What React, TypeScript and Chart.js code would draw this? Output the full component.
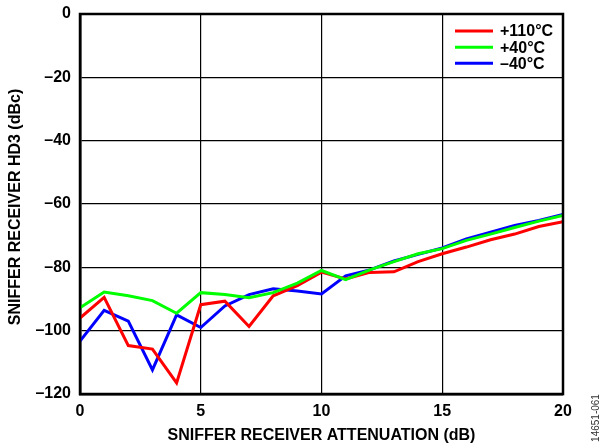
import React, { useEffect, useRef } from "react";
import { Chart, registerables } from "chart.js";

Chart.register(...registerables);

const attenuation = [0, 1, 2, 3, 4, 5, 6, 7, 8, 9, 10, 11, 12, 13, 14, 15, 16, 17, 18, 19, 20];
const hd3Plus110 = [-96, -89.5, -104.7, -105.8, -116.5, -91.8, -90.7, -98.7, -89, -85.8, -81.5, -83.7, -81.6, -81.4, -78.2, -75.7, -73.6, -71.3, -69.5, -67.1, -65.6];
const hd3Plus40 = [-92.8, -87.8, -89, -90.5, -94.5, -88, -88.6, -89.6, -88, -85, -81, -83.9, -80.8, -78.2, -75.7, -74.1, -71.5, -69.5, -67.4, -65.4, -63.6];
const hd3Minus40 = [-103.3, -93.6, -97, -112.4, -95, -99, -92.2, -88.6, -86.8, -87.5, -88.4, -82.7, -80.8, -78, -75.9, -73.9, -71, -68.9, -66.8, -65.2, -63.3];

const seriesLabels = ["+110°C", "+40°C", "–40°C"];
const seriesColors = ["#ff0000", "#00ff00", "#0000ff"];
const xTitle = "SNIFFER RECEIVER ATTENUATION (dB)";
const yTitle = "SNIFFER RECEIVER HD3 (dBc)";
const figureId = "14651-061";

const FONT = "'Liberation Sans', Arial, Helvetica, sans-serif";

const toPoints = (ys: number[]) => attenuation.map((x, i) => ({ x, y: ys[i] }));

const decorPlugin = {
  id: "decor",
  afterDraw(chart: any) {
    const ctx = chart.ctx;
    const a = chart.chartArea;
    ctx.save();
    // plot frame
    ctx.strokeStyle = "#000";
    ctx.lineWidth = 2.5;
    ctx.strokeRect(a.left, a.top, a.right - a.left, a.bottom - a.top);

    // legend
    const lx0 = 455;
    const lx1 = 493;
    const ys = [31, 47.3, 63.3];
    ctx.font = `bold 16px ${FONT}`;
    ctx.textAlign = "left";
    ctx.textBaseline = "middle";
    seriesLabels.forEach((lab, i) => {
      ctx.strokeStyle = seriesColors[i];
      ctx.lineWidth = 3;
      ctx.beginPath();
      ctx.moveTo(lx0, ys[i]);
      ctx.lineTo(lx1, ys[i]);
      ctx.stroke();
      ctx.fillStyle = "#000";
      ctx.fillText(lab, 500, ys[i] + 1);
    });

    // axis titles
    ctx.fillStyle = "#000";
    ctx.font = `bold 16px ${FONT}`;
    ctx.textAlign = "center";
    ctx.textBaseline = "middle";
    ctx.fillText(xTitle, (a.left + a.right) / 2, 436);
    ctx.save();
    ctx.translate(16, (a.top + a.bottom) / 2 + 3);
    ctx.rotate(-Math.PI / 2);
    ctx.fillText(yTitle, 0, 0);
    ctx.restore();

    // figure id
    ctx.save();
    ctx.font = `10px ${FONT}`;
    ctx.fillStyle = "#333";
    ctx.translate(596, 418);
    ctx.rotate(-Math.PI / 2);
    ctx.fillText(figureId, 0, 0);
    ctx.restore();

    ctx.restore();
  },
};

export default function App() {
  const ref = useRef<HTMLCanvasElement | null>(null);

  useEffect(() => {
    document.body.style.margin = "0";
    const canvas = ref.current;
    if (!canvas) return;
    const order = [1, 0, 2];
    const chart = new Chart(canvas, {
      type: "line",
      data: {
        datasets: [hd3Plus110, hd3Plus40, hd3Minus40].map((ys, i) => ({
          label: seriesLabels[i],
          data: toPoints(ys),
          borderColor: seriesColors[i],
          backgroundColor: seriesColors[i],
          borderWidth: 3,
          pointRadius: 0,
          tension: 0,
          fill: false,
          order: order[i],
        })),
      },
      options: {
        responsive: false,
        animation: false,
        maintainAspectRatio: false,
        layout: { padding: { top: 14, right: 37, left: 0, bottom: 0 } },
        plugins: {
          legend: { display: false },
          tooltip: { enabled: false },
        },
        scales: {
          x: {
            type: "linear",
            min: 0,
            max: 20,
            afterFit: (s: any) => {
              s.height = 51;
              s.paddingLeft = 0;
              s.paddingRight = 0;
            },
            ticks: {
              stepSize: 5,
              padding: 8,
              color: "#000",
              font: { family: FONT, size: 16, weight: "bold" },
              maxRotation: 0,
            },
            grid: { color: "#000", lineWidth: 1.2, drawTicks: false },
            border: { display: true, color: "#000", width: 2.5 },
          },
          y: {
            type: "linear",
            min: -120,
            max: 0,
            afterFit: (s: any) => {
              s.width = 80;
              s.paddingTop = 0;
              s.paddingBottom = 0;
            },
            ticks: {
              stepSize: 20,
              padding: 9,
              color: "#000",
              font: { family: FONT, size: 16, weight: "bold" },
              callback: (v: any) => (Number(v) < 0 ? "–" + Math.abs(Number(v)) : String(v)),
            },
            grid: { color: "#000", lineWidth: 1.2, drawTicks: false },
            border: { display: true, color: "#000", width: 2.5 },
          },
        },
      },
      plugins: [decorPlugin],
    } as any);
    return () => chart.destroy();
  }, []);

  return (
    <div style={{ position: "absolute", left: 0, top: 0, width: 600, height: 445, background: "#fff" }}>
      <canvas ref={ref} width={600} height={445} style={{ width: 600, height: 445 }} />
    </div>
  );
}
